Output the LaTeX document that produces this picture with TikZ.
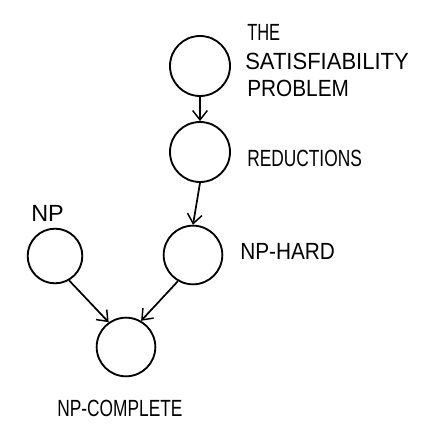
\documentclass[tikz,border=0pt]{standalone}
\usepackage{fontspec}
\setmainfont{Liberation Sans}
\usetikzlibrary{arrows.meta}
\begin{document}
\begin{tikzpicture}[x=0.75pt,y=-0.75pt,
  blob/.style={circle,draw,line width=1.4pt,inner sep=0pt},
  link/.style={line width=1.3pt,-{Straight Barb[length=7pt,width=11pt,line width=1.1pt]}},
  lbl/.style={font=\fontsize{13}{15}\selectfont,inner sep=0pt,anchor=west}]
\useasboundingbox (0,0) rectangle (426,437);
\node[blob,minimum size=45pt] (sat) at (200,66) {};
\node[blob,minimum size=45pt] (red) at (200,152) {};
\node[blob,minimum size=44pt] (hard) at (193,255) {};
\node[blob,minimum size=41pt] (np) at (55,256) {};
\node[blob,minimum size=44pt] (comp) at (126,347) {};
\draw[link] (sat.south) -- (red.north);
\draw[link] (red.south) -- (hard.north);
\draw[link] (hard.-120) -- (comp.60);
\draw[link] (np.-60) -- (comp.125);
\node[lbl] (t1) at (247,32) {\scalebox{0.95}[1.35]{THE}};
\node[lbl] (t2) at (245,61) {\scalebox{1.27}[1.35]{SATISFIABILITY}};
\node[lbl] (t3) at (247,88) {\scalebox{1.2}[1.35]{PROBLEM}};
\node[lbl] (t4) at (247,158) {\scalebox{1}[1.35]{REDUCTIONS}};
\node[lbl] (t5) at (240,251) {\scalebox{1.2}[1.35]{NP-HARD}};
\node[lbl] (t6) at (31,213) {\scalebox{1.35}[1.35]{NP}};
\node[lbl] (t7) at (57,408) {\scalebox{1}[1.35]{NP-COMPLETE}};
\end{tikzpicture}
\end{document}
